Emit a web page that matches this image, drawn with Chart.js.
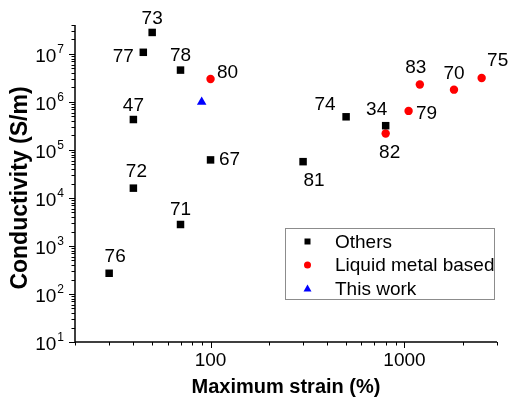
<!DOCTYPE html>
<html>
<head>
<meta charset="utf-8">
<script src="https://cdn.jsdelivr.net/npm/chart.js@4.4.1/dist/chart.umd.min.js"></script>
<style>
  html, body { margin: 0; padding: 0; background: #fff; }
</style>
</head>
<body>
<canvas id="chartStrain" width="510" height="398"></canvas>
<script>
// datos
const othersRefs = ['73', '77', '78', '47', '67', '72', '71', '76', '74', '34', '81'];
const othersStrain = [50, 45, 70, 40, 100, 40, 70, 30, 500, 800, 300];
const othersCond = [2.8e7, 1.08e7, 4.6e6, 4.3e5, 6.2e4, 1.6e4, 2.8e3, 2.7e2, 4.9e5, 3.2e5, 5.7e4];

const liquidRefs = ['80', '82', '79', '83', '70', '75'];
const liquidStrain = [100, 800, 1050, 1200, 1800, 2500];
const liquidCond = [3.0e6, 2.2e5, 6.5e5, 2.3e6, 1.8e6, 3.15e6];

const thisStrain = [90];
const thisCond = [1.0e6];

const xTickValues = [100, 1000];
const yTickExponents = [1, 2, 3, 4, 5, 6, 7];
const seriesNames = ['Others', 'Liquid metal based', 'This work'];

// donde va cada numero respecto a su punto (px)
const othersLabelOffset = [[0, -14], [-20, 4], [0, -14], [0, -14], [19, 0], [3, -16], [0, -15], [6, -17], [-21, -12], [-9, -16], [11, 19]];
const liquidLabelOffset = [[17, -6], [4, 19], [18, 3], [-4, -17], [0, -16], [16, -17]];

const FONT = '"Liberation Sans", Arial, Helvetica, sans-serif';

const toPoints = (xs, ys) => xs.map((v, i) => ({ x: v, y: ys[i] }));

// ejes, marcas, etiquetas y leyenda dibujados a mano
const axesPlugin = {
    id: 'axesPlugin',
    afterDraw(chart) {
        const { ctx, chartArea: a, scales } = chart;
        const xs = scales.x, ys = scales.y;
        ctx.save();
        ctx.strokeStyle = '#000';
        ctx.lineWidth = 1.5;
        ctx.beginPath();
        ctx.moveTo(a.left, a.top);
        ctx.lineTo(a.left, a.bottom);
        ctx.lineTo(a.right, a.bottom);
        ctx.stroke();

        ctx.lineWidth = 1;
        // marcas eje x
        for (let d = 1; d <= 3; d++) {
            for (let m = 1; m <= 9; m++) {
                const v = m * Math.pow(10, d);
                if (v < xs.min || v > xs.max) continue;
                const px = Math.round(xs.getPixelForValue(v)) + 0.5;
                const len = m === 1 ? 6 : 3.5;
                ctx.beginPath();
                ctx.moveTo(px, a.bottom);
                ctx.lineTo(px, a.bottom + len);
                ctx.stroke();
            }
        }
        // marcas eje y
        for (let d = 1; d <= 7; d++) {
            for (let m = 1; m <= 9; m++) {
                const v = m * Math.pow(10, d);
                if (v < ys.min || v > ys.max) continue;
                const py = Math.round(ys.getPixelForValue(v)) + 0.5;
                const len = m === 1 ? 6 : 3.5;
                ctx.beginPath();
                ctx.moveTo(a.left, py);
                ctx.lineTo(a.left - len, py);
                ctx.stroke();
            }
        }

        ctx.fillStyle = '#000';
        ctx.textBaseline = 'middle';
        // etiquetas x
        ctx.font = '19px ' + FONT;
        ctx.textAlign = 'center';
        xTickValues.forEach(v => {
            ctx.fillText(String(v), xs.getPixelForValue(v), a.bottom + 19);
        });
        // etiquetas y con exponente
        yTickExponents.forEach(e => {
            const py = ys.getPixelForValue(Math.pow(10, e));
            const right = a.left - 11;
            ctx.font = '12px ' + FONT;
            ctx.textAlign = 'right';
            const ew = ctx.measureText(String(e)).width;
            ctx.fillText(String(e), right, py - 4);
            ctx.font = '19px ' + FONT;
            ctx.fillText('10', right - ew - 1, py + 3);
        });

        // titulos
        ctx.font = 'bold 20px ' + FONT;
        ctx.textAlign = 'center';
        ctx.fillText('Maximum strain (%)', (a.left + a.right) / 2, 387);
        ctx.save();
        ctx.translate(21, 188);
        ctx.rotate(-Math.PI / 2);
        ctx.font = 'bold 23px ' + FONT;
        ctx.fillText('Conductivity (S/m)', 0, 0);
        ctx.restore();

        // numeros de referencia
        ctx.font = '19px ' + FONT;
        ctx.textAlign = 'center';
        const drawRefs = (idx, refs, offs) => {
            chart.getDatasetMeta(idx).data.forEach((pt, i) => {
                ctx.fillText(refs[i], pt.x + offs[i][0], pt.y + offs[i][1]);
            });
        };
        drawRefs(0, othersRefs, othersLabelOffset);
        drawRefs(1, liquidRefs, liquidLabelOffset);

        // leyenda
        const lx = 285.5, ly = 228.5, lw = 209, lh = 71;
        ctx.strokeStyle = '#8c8c8c';
        ctx.lineWidth = 1;
        ctx.strokeRect(lx, ly, lw, lh);
        const rowY = [241.5, 265, 288.5];
        const mx = 307.5;
        ctx.textAlign = 'left';
        chart.data.datasets.forEach((ds, i) => {
            ctx.fillStyle = ds.backgroundColor;
            ctx.beginPath();
            if (ds.pointStyle === 'rect') {
                ctx.rect(mx - 3, rowY[i] - 3, 6, 6);
            } else if (ds.pointStyle === 'circle') {
                ctx.arc(mx, rowY[i], 3.5, 0, Math.PI * 2);
            } else {
                ctx.moveTo(mx, rowY[i] - 4);
                ctx.lineTo(mx + 4, rowY[i] + 3);
                ctx.lineTo(mx - 4, rowY[i] + 3);
                ctx.closePath();
            }
            ctx.fill();
            ctx.fillStyle = '#000';
            ctx.fillText(seriesNames[i], 335, rowY[i] + 1);
        });
        ctx.restore();
    }
};

const ctxStrain = document.getElementById('chartStrain');
new Chart(ctxStrain, {
    type: 'scatter',
    data: {
        datasets: [
            {
                label: seriesNames[0],
                data: toPoints(othersStrain, othersCond),
                pointStyle: 'rect',
                pointRadius: 5.3,
                backgroundColor: '#000000',
                borderWidth: 0,
            },
            {
                label: seriesNames[1],
                data: toPoints(liquidStrain, liquidCond),
                pointStyle: 'circle',
                pointRadius: 4.2,
                backgroundColor: '#ff0000',
                borderWidth: 0,
            },
            {
                label: seriesNames[2],
                data: toPoints(thisStrain, thisCond),
                pointStyle: 'triangle',
                pointRadius: 5.5,
                backgroundColor: '#0000ff',
                borderWidth: 0,
            }
        ]
    },
    options: {
        responsive: false,
        animation: false,
        layout: { padding: { left: 75, right: 13, top: 25, bottom: 56 } },
        plugins: {
            legend: { display: false },
            tooltip: { enabled: false }
        },
        scales: {
            x: { type: 'logarithmic', min: 20, max: 3000, display: false },
            y: { type: 'logarithmic', min: 10, max: 4e7, display: false }
        }
    },
    plugins: [axesPlugin]
});
</script>
</body>
</html>
